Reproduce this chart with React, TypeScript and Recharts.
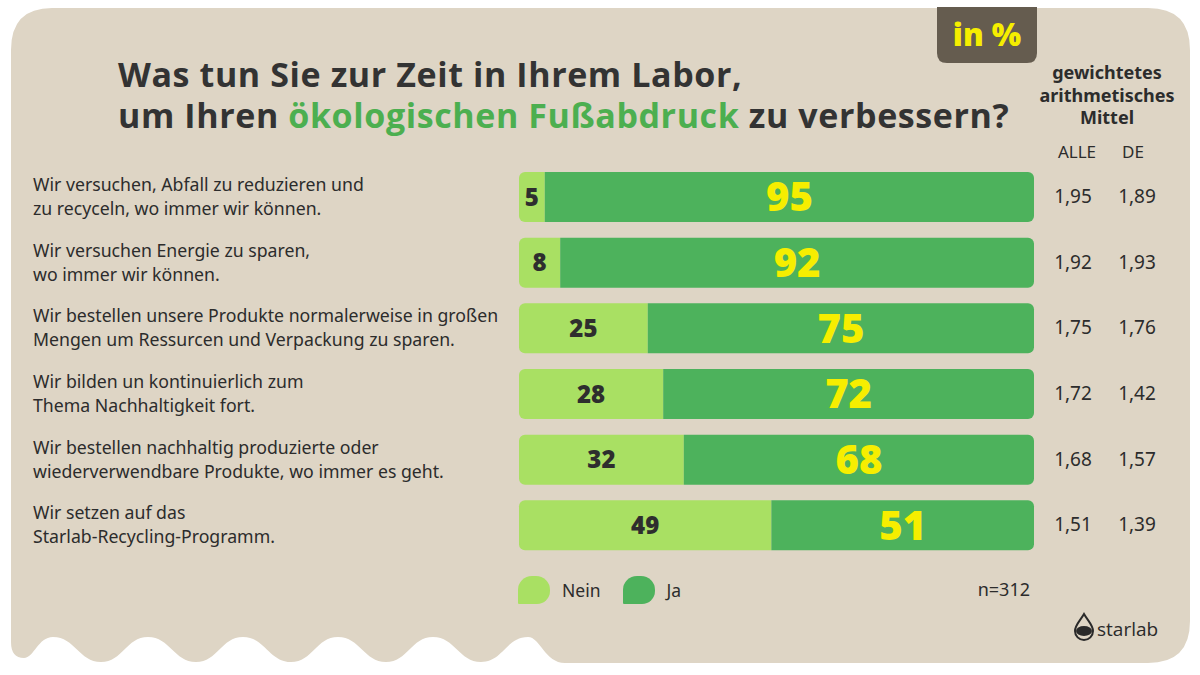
import { BarChart, Bar, XAxis, YAxis, LabelList } from 'recharts'

const categories = [
  'Wir versuchen, Abfall zu reduzieren und\nzu recyceln, wo immer wir können.',
  'Wir versuchen Energie zu sparen,\nwo immer wir können.',
  'Wir bestellen unsere Produkte normalerweise in großen\nMengen um Ressurcen und Verpackung zu sparen.',
  'Wir bilden un kontinuierlich zum\nThema Nachhaltigkeit fort.',
  'Wir bestellen nachhaltig produzierte oder\nwiederverwendbare Produkte, wo immer es geht.',
  'Wir setzen auf das\nStarlab-Recycling-Programm.'
]
const nein = [5, 8, 25, 28, 32, 49]
const ja = [95, 92, 75, 72, 68, 51]
const meanAll = [1.95, 1.92, 1.75, 1.72, 1.68, 1.51]
const meanDe = [1.89, 1.93, 1.76, 1.42, 1.57, 1.39]

const series = [
  { key: 'nein', name: 'Nein', color: '#a9e063' },
  { key: 'ja', name: 'Ja', color: '#4db25c' }
]

const data = categories.map((label, i) => ({
  label,
  nein: nein[i],
  ja: ja[i],
  alle: meanAll[i],
  de: meanDe[i]
}))

const TEXT = '#2c2c2c'
const BODY_FONT = '"Noto Sans", sans-serif'
const HEAD_FONT = '"Open Sans", sans-serif'

const fmt = (v: number) => v.toFixed(2).replace('.', ',')

const LeftTick = (props: any) => {
  const { y, payload } = props
  const lines = String(payload.value).split('\n')
  return (
    <text x={33} y={y} fill={TEXT} fontSize={17.7} fontFamily={BODY_FONT}>
      {lines.map((l, i) => (
        <tspan key={i} x={33} dy={i === 0 ? -6 : 24}>{l}</tspan>
      ))}
    </text>
  )
}

const RightTick = (props: any) => {
  const { y, index } = props
  const row = data[index]
  return (
    <g fill={TEXT} fontSize={19} fontFamily={BODY_FONT}>
      <text x={1073} y={y} dy={6} textAnchor="middle">{fmt(row.alle)}</text>
      <text x={1137} y={y} dy={6} textAnchor="middle">{fmt(row.de)}</text>
    </g>
  )
}

// background panel with the wavy lower-left edge
const bgPath = `M 11 50 Q 11 8 52 8 L 1148 8 Q 1190 8 1190 50 L 1190 621 Q 1190 663 1148 663 L 565 663
C 545 663 540 637 528 637 C 506 637 503 662 481 662 C 459 662 455 637 433 637 C 411 637 408 662 386 662
C 364 662 360 637 338 637 C 316 637 313 662 291 662 C 269 662 265 637 243 637 C 221 637 218 662 196 662
C 174 662 170 637 148 637 C 126 637 123 662 101 662 C 79 662 75 637 53 637 C 38 637 34 658 24 658
Q 11 658 11 642 Z`

export default function App() {
  return (
    <div style={{ position: 'relative', width: 1200, height: 675, background: '#fff', overflow: 'hidden' }}>
      <style>{'body{margin:0}'}</style>
      <svg width={1200} height={675} style={{ position: 'absolute', left: 0, top: 0 }}>
        <path d={bgPath} fill="#ded5c5" />
        <path d="M 937 7 L 1037 7 L 1037 53 Q 1037 63 1027 63 L 947 63 Q 937 63 937 53 Z" fill="#655c4f" />
      </svg>

      <BarChart
        layout="vertical"
        width={1200}
        height={675}
        data={data}
        margin={{ top: 164, right: 0, bottom: 117, left: 0 }}
        style={{ position: 'absolute', left: 0, top: 0 }}
      >
        <XAxis type="number" domain={[0, 100]} hide />
        <YAxis yAxisId="left" type="category" dataKey="label" width={519} axisLine={false} tickLine={false} interval={0} tick={(p: any) => <LeftTick {...p} />} />
        <YAxis yAxisId="right" orientation="right" type="category" dataKey="label" width={166} axisLine={false} tickLine={false} interval={0} tick={(p: any) => <RightTick {...p} />} />
        <Bar yAxisId="left" dataKey="nein" name="Nein" stackId="a" fill={series[0].color} barSize={50} radius={[6, 0, 0, 6]} isAnimationActive={false}>
          <LabelList dataKey="nein" position="center" fill="#2e2e2e" fontSize={24} fontWeight={800} fontFamily={HEAD_FONT} />
        </Bar>
        <Bar yAxisId="left" dataKey="ja" name="Ja" stackId="a" fill={series[1].color} barSize={50} radius={[0, 6, 6, 0]} isAnimationActive={false}>
          <LabelList dataKey="ja" position="center" fill="#f6ee00" fontSize={40} fontWeight={800} fontFamily={HEAD_FONT} />
        </Bar>
      </BarChart>

      <div style={{ position: 'absolute', left: 937, top: 14, width: 100, textAlign: 'center', color: '#f6ee00', fontFamily: HEAD_FONT, fontWeight: 800, fontSize: 31, lineHeight: '40px' }}>
        in %
      </div>

      <div style={{ position: 'absolute', left: 118, top: 54, color: '#333333', fontFamily: HEAD_FONT, fontWeight: 700, fontSize: 34, letterSpacing: 0.6, lineHeight: '41px', whiteSpace: 'nowrap' }}>
        <div style={{ height: 41 }}>Was tun Sie zur Zeit in Ihrem Labor,</div>
        <div style={{ height: 41 }}>
          um Ihren <span style={{ color: '#4caf50', display: 'inline-block', lineHeight: '41px' }}>ökologischen Fußabdruck</span> zu verbessern?
        </div>
      </div>

      <div style={{ position: 'absolute', left: 1027, top: 61, width: 160, textAlign: 'center', color: TEXT, fontFamily: BODY_FONT, fontWeight: 700, fontSize: 18, lineHeight: '22.5px' }}>
        gewichtetes<br />arithmetisches<br />Mittel
      </div>
      <div style={{ position: 'absolute', left: 1037, top: 140, width: 80, textAlign: 'center', color: TEXT, fontFamily: BODY_FONT, fontSize: 17 }}>ALLE</div>
      <div style={{ position: 'absolute', left: 1103, top: 140, width: 60, textAlign: 'center', color: TEXT, fontFamily: BODY_FONT, fontSize: 17 }}>DE</div>

      <div style={{ position: 'absolute', left: 518, top: 576, display: 'flex', alignItems: 'center', fontFamily: BODY_FONT, fontSize: 17.5, color: TEXT }}>
        {series.map((s) => (
          <div key={s.key} style={{ display: 'flex', alignItems: 'center', marginRight: 22 }}>
            <div style={{ width: 32, height: 28, background: s.color, borderRadius: '14px 14px 13px 1px', marginRight: 12 }} />
            <span>{s.name}</span>
          </div>
        ))}
      </div>

      <div style={{ position: 'absolute', right: 170, top: 577, fontFamily: BODY_FONT, fontSize: 18, color: TEXT }}>n=312</div>

      <svg width={90} height={34} style={{ position: 'absolute', left: 1072, top: 611 }}>
        <path d="M 12 3 C 8 10 3 14 3 20 A 9 9 0 0 0 21 20 C 21 14 16 10 12 3 Z" fill="none" stroke="#2a2a2a" strokeWidth={2} />
        <ellipse cx={12} cy={20} rx={8} ry={5} fill="#2a2a2a" />
        <text x={25} y={25} fontFamily={HEAD_FONT} fontSize={19} fill="#2a2a2a">starlab</text>
      </svg>
    </div>
  )
}
